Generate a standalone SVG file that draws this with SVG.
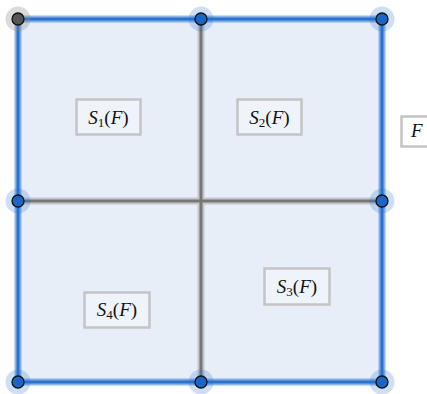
<svg xmlns="http://www.w3.org/2000/svg" width="427" height="394" viewBox="0 0 427 394">
<style>
.halo-b{fill:#1f6fd0;fill-opacity:0.22}
.halo-g{fill:#888;fill-opacity:0.3}
.pt{fill:#1a66c8;stroke:#111;stroke-width:1.3}
.ptg{fill:#555;stroke:#111;stroke-width:1.3}
.eb-o{stroke:#1f6fd0;stroke-opacity:0.5;stroke-width:7;fill:none}
.eb-i{stroke:#2a72cf;stroke-width:3;fill:none}
.eg-o{stroke:#999;stroke-opacity:0.45;stroke-width:7;fill:none}
.eg-i{stroke:#777;stroke-width:3;fill:none}
.lbl{fill:#ffffff;fill-opacity:0.35;stroke:#c4c4c4;stroke-width:2.5}
.t{font-family:"Liberation Serif","DejaVu Serif",serif;font-size:19px;fill:#111}
.it{font-style:italic}
.sub{font-size:13px}
</style>
<rect x="18" y="19" width="364" height="363" fill="#e7eef8"/>
<g id="connectors">
<path class="eg-o" d="M201,19V382M18,201H382"/>
<path class="eg-i" d="M201,19V382M18,201H382"/>
<path class="eb-o" d="M18,19H382V382H18Z"/>
<path class="eb-i" d="M18,19H382V382H18Z"/>
</g>
<g id="n1"><circle class="halo-g" cx="18" cy="19" r="12.5"/><circle class="ptg" cx="18" cy="19" r="6"/></g>
<g id="n2"><circle class="halo-b" cx="201" cy="19" r="12.5"/><circle class="pt" cx="201" cy="19" r="6"/></g>
<g id="n3"><circle class="halo-b" cx="382" cy="19" r="12.5"/><circle class="pt" cx="382" cy="19" r="6"/></g>
<g id="n4"><circle class="halo-b" cx="18" cy="201" r="12.5"/><circle class="pt" cx="18" cy="201" r="6"/></g>
<g id="n5"><circle class="halo-b" cx="382" cy="201" r="12.5"/><circle class="pt" cx="382" cy="201" r="6"/></g>
<g id="n6"><circle class="halo-b" cx="18" cy="382" r="12.5"/><circle class="pt" cx="18" cy="382" r="6"/></g>
<g id="n7"><circle class="halo-b" cx="201" cy="382" r="12.5"/><circle class="pt" cx="201" cy="382" r="6"/></g>
<g id="n8"><circle class="halo-b" cx="382" cy="382" r="12.5"/><circle class="pt" cx="382" cy="382" r="6"/></g>
<g id="s1"><rect class="lbl" x="76.5" y="99.5" width="64" height="35"/><text class="t" x="108.5" y="123.5" text-anchor="middle"><tspan class="it">S</tspan><tspan class="sub" dy="3">1</tspan><tspan dy="-3">(</tspan><tspan class="it">F</tspan>)</text></g>
<g id="s2"><rect class="lbl" x="237.5" y="99.5" width="64" height="35"/><text class="t" x="269.5" y="123.5" text-anchor="middle"><tspan class="it">S</tspan><tspan class="sub" dy="3">2</tspan><tspan dy="-3">(</tspan><tspan class="it">F</tspan>)</text></g>
<g id="s3"><rect class="lbl" x="264.5" y="268.5" width="65" height="36"/><text class="t" x="297" y="292.5" text-anchor="middle"><tspan class="it">S</tspan><tspan class="sub" dy="3">3</tspan><tspan dy="-3">(</tspan><tspan class="it">F</tspan>)</text></g>
<g id="s4"><rect class="lbl" x="84.5" y="292.5" width="65" height="35"/><text class="t" x="117" y="316" text-anchor="middle"><tspan class="it">S</tspan><tspan class="sub" dy="3">4</tspan><tspan dy="-3">(</tspan><tspan class="it">F</tspan>)</text></g>
<g id="f"><rect class="lbl" x="401.5" y="116.5" width="40" height="30"/><text class="t it" x="411" y="137">F</text></g>
</svg>
